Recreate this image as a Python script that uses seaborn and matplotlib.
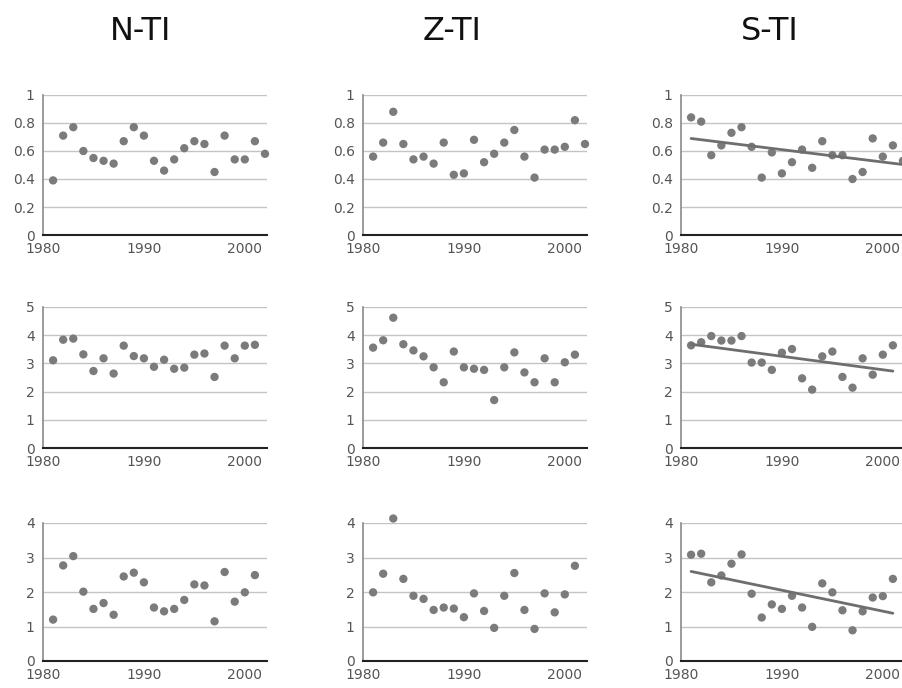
import matplotlib
matplotlib.use("Agg")
import matplotlib.pyplot as plt
import numpy as np
import pandas as pd
import seaborn as sns

# ---- data -------------------------------------------------------------
years_22 = list(range(1981, 2003))   # 1981-2002
years_21 = list(range(1981, 2002))   # 1981-2001

regions = ["N-TI", "Z-TI", "S-TI"]

# top row (0-1 scale)
nti_top = [0.39, 0.71, 0.77, 0.60, 0.55, 0.53, 0.51, 0.67, 0.77, 0.71, 0.53,
           0.46, 0.54, 0.62, 0.67, 0.65, 0.45, 0.71, 0.54, 0.54, 0.67, 0.58]
zti_top = [0.56, 0.66, 0.88, 0.65, 0.54, 0.56, 0.51, 0.66, 0.43, 0.44, 0.68,
           0.52, 0.58, 0.66, 0.75, 0.56, 0.41, 0.61, 0.61, 0.63, 0.82, 0.65]
sti_top = [0.84, 0.81, 0.57, 0.64, 0.73, 0.77, 0.63, 0.41, 0.59, 0.44, 0.52,
           0.61, 0.48, 0.67, 0.57, 0.57, 0.40, 0.45, 0.69, 0.56, 0.64, 0.53]

# middle row (0-5 scale)
nti_mid = [3.11, 3.84, 3.88, 3.32, 2.73, 3.18, 2.64, 3.63, 3.26, 3.18, 2.88,
           3.13, 2.81, 2.85, 3.31, 3.35, 2.52, 3.63, 3.18, 3.63, 3.66]
zti_mid = [3.56, 3.82, 4.62, 3.68, 3.46, 3.25, 2.86, 2.33, 3.42, 2.86, 2.81,
           2.77, 1.70, 2.86, 3.39, 2.68, 2.33, 3.18, 2.33, 3.04, 3.31]
sti_mid = [3.64, 3.75, 3.97, 3.81, 3.81, 3.97, 3.03, 3.03, 2.77, 3.38, 3.51,
           2.47, 2.07, 3.25, 3.42, 2.52, 2.14, 3.18, 2.60, 3.31, 3.64]

# bottom row (0-4 scale)
nti_low = [1.20, 2.77, 3.04, 2.01, 1.51, 1.68, 1.34, 2.45, 2.56, 2.28, 1.55,
           1.44, 1.51, 1.77, 2.22, 2.19, 1.15, 2.58, 1.72, 1.99, 2.49]
zti_low = [1.99, 2.53, 4.13, 2.38, 1.89, 1.80, 1.48, 1.55, 1.52, 1.27, 1.96,
           1.45, 0.96, 1.89, 2.55, 1.48, 0.93, 1.96, 1.41, 1.93, 2.76]
sti_low = [3.08, 3.11, 2.28, 2.48, 2.82, 3.09, 1.95, 1.26, 1.64, 1.51, 1.89,
           1.55, 0.99, 2.25, 1.99, 1.47, 0.89, 1.44, 1.84, 1.88, 2.38]

rows = [
    dict(years=years_22, series=[nti_top, zti_top, sti_top],
         ymax=1.0, yticks=[0, 0.2, 0.4, 0.6, 0.8, 1],
         yticklabels=["0", "0.2", "0.4", "0.6", "0.8", "1"]),
    dict(years=years_21, series=[nti_mid, zti_mid, sti_mid],
         ymax=5.0, yticks=[0, 1, 2, 3, 4, 5],
         yticklabels=["0", "1", "2", "3", "4", "5"]),
    dict(years=years_21, series=[nti_low, zti_low, sti_low],
         ymax=4.0, yticks=[0, 1, 2, 3, 4],
         yticklabels=["0", "1", "2", "3", "4"]),
]
xticks = [1980, 1990, 2000]
trend_column = 2   # linear fit drawn for S-TI only

# ---- figure -----------------------------------------------------------
sns.set_style("white")
plt.rcParams["font.family"] = ["DejaVu Sans"]

W, H = 902, 688
fig = plt.figure(figsize=(W / 100, H / 100), dpi=100)

col_left = [43, 363, 681]     # pixel x of the y axis
col_width = 224
row_top = [95, 307, 523]      # pixel y of the top of the y range
row_bottom = [235, 448, 661]  # pixel y of zero

title_x = [141, 452, 770]
title_y = 32

dot_color = "#7b7b7b"
line_color = "#6e6e6e"
text_color = "#555555"

for r, row in enumerate(rows):
    for c, vals in enumerate(row["series"]):
        x0 = col_left[c] / W
        y0 = 1 - row_bottom[r] / H
        w = col_width / W
        h = (row_bottom[r] - row_top[r]) / H
        ax = fig.add_axes([x0, y0, w, h])
        df = pd.DataFrame({"year": row["years"], "value": vals})

        ax.set_xlim(1980, 2002.2)
        ax.set_ylim(0, row["ymax"])
        ax.set_yticks(row["yticks"])
        ax.set_yticklabels(row["yticklabels"])
        ax.set_xticks(xticks)
        ax.set_xticklabels([str(t) for t in xticks])
        ax.yaxis.grid(True, color="#c4c4c4", linewidth=1.0)
        ax.xaxis.grid(False)
        ax.set_axisbelow(True)

        sns.scatterplot(data=df, x="year", y="value", ax=ax, color=dot_color,
                        s=36, edgecolor="none", zorder=3, clip_on=False)
        if c == trend_column:
            sns.regplot(data=df, x="year", y="value", ax=ax, scatter=False,
                        ci=None, color=line_color,
                        line_kws=dict(linewidth=2.0, zorder=4))

        ax.set_xlabel("")
        ax.set_ylabel("")
        for side in ("top", "right"):
            ax.spines[side].set_visible(False)
        ax.spines["left"].set_color("#8a8a8a")
        ax.spines["left"].set_linewidth(1.2)
        ax.spines["bottom"].set_color("#222222")
        ax.spines["bottom"].set_linewidth(1.5)
        ax.spines["bottom"].set_zorder(5)
        ax.tick_params(axis="y", length=0, pad=6, labelsize=10,
                       labelcolor=text_color)
        ax.tick_params(axis="x", direction="inout", length=6, width=1.2,
                       color="#444444", pad=2, labelsize=10,
                       labelcolor=text_color)
        ax.patch.set_alpha(0)

for c, name in enumerate(regions):
    fig.text(title_x[c] / W, 1 - title_y / H, name, ha="center", va="center",
             fontsize=23, color="#111111")

fig.savefig("out.png", dpi=100)
